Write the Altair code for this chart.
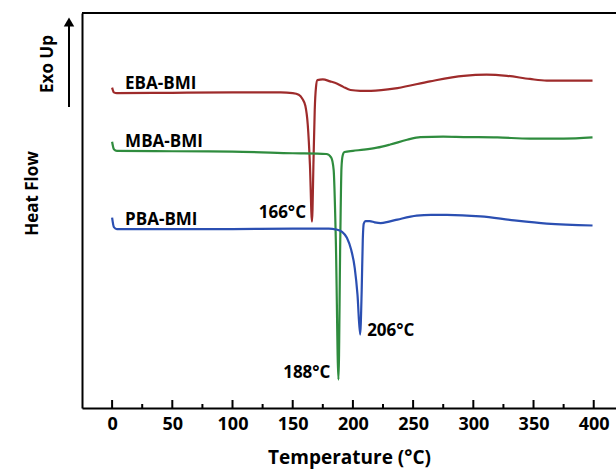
import altair as alt
import pandas as pd

# DSC scans of the three bismaleimide monomers (heat flow in arbitrary units, exo up)
eba_temp = [0, 1.5, 4, 50, 100, 140, 150, 155, 158, 160.5, 162.5, 164.3, 166, 167.3, 168.3,
            169.3, 170.5, 175, 181, 187, 192, 198, 206, 215, 237, 264, 292, 311, 328, 347,
            361, 381, 399]
eba_flow = [81.1, 79.9, 79.7, 79.8, 79.9, 79.9, 79.7, 79.3, 78.3, 76.5, 71.7, 61.6, 47.2, 62.9,
            75.5, 81.1, 83.0, 83.2, 82.7, 82.1, 81.3, 80.5, 80.3, 80.3, 81.0, 82.7, 84.1, 84.4,
            84.1, 83.3, 82.9, 82.9, 82.9]

mba_temp = [0, 1.5, 4, 50, 100, 150, 178, 182, 184, 185.8, 188, 189.5, 190.5, 191.5, 193, 200,
            209, 220, 231, 245, 256, 275, 292, 320, 347, 375, 399]
mba_flow = [67.4, 65.5, 65.1, 65.0, 64.9, 64.5, 64.3, 63.4, 60.3, 42.6, 7.2, 42.6, 60.8, 63.9,
            64.8, 65.1, 65.4, 65.9, 66.7, 67.9, 68.6, 68.7, 68.6, 68.5, 68.2, 68.2, 68.5]

pba_temp = [0, 1.5, 4, 50, 100, 150, 180, 186, 191, 195, 198.5, 201.5, 203.8, 206, 207.3, 208.2,
            209, 210.5, 214, 218, 223, 230, 237, 253, 265, 278, 306, 334, 361, 399]
pba_flow = [48.2, 45.8, 45.3, 45.3, 45.3, 45.4, 45.4, 45.2, 44.6, 43.1, 40.1, 35.5, 28.7, 18.6,
            29.9, 42.6, 46.7, 47.3, 47.3, 47.0, 46.8, 47.2, 47.7, 48.7, 48.9, 48.9, 48.5, 47.5,
            46.7, 46.2]

samples = ["EBA-BMI", "MBA-BMI", "PBA-BMI"]
colors = ["#9E2B2B", "#2F8C3E", "#2B4FB2"]
major_ticks = [0, 50, 100, 150, 200, 250, 300, 350, 400]
minor_ticks = [25, 75, 125, 175, 225, 275, 325, 375]

series = list(zip(samples, [eba_temp, mba_temp, pba_temp], [eba_flow, mba_flow, pba_flow]))

rows = []
for name, ts, hs in series:
    for t, h in zip(ts, hs):
        rows.append({"sample": name, "temp": t, "flow": h})
df = pd.DataFrame(rows)

# name labels sit just above each flat baseline at the start of the scan
name_df = pd.DataFrame([{"sample": n, "temp": ts[0], "flow": hs[2]} for n, ts, hs in series])

# melting endotherm minimum of each scan
peaks = []
for n, ts, hs in series:
    i = hs.index(min(hs))
    peaks.append({"sample": n, "temp": ts[i], "flow": hs[i], "label": f"{ts[i]:g}°C"})
peak_df = pd.DataFrame(peaks)

W, H = 534, 395
FONT = "Open Sans"

x_scale = alt.Scale(domain=[-25, 418.5], nice=False, zero=False)
y_scale = alt.Scale(domain=[0, 100], nice=False, zero=False)

x_axis = alt.Axis(
    title="Temperature (°C)", values=major_ticks, format="d", ticks=False, grid=False,
    domainColor="black", domainWidth=2, labelColor="black", labelFont=FONT,
    labelFontSize=18, labelFontWeight="bold", labelBaseline="middle", labelPadding=16,
    titleFont=FONT, titleFontSize=19, titleFontWeight="bold", titleColor="black",
    titleY=49, titleBaseline="middle")
y_axis = alt.Axis(
    title="Heat Flow", labels=False, ticks=False, grid=False, domainColor="black",
    domainWidth=2, titleFont=FONT, titleFontSize=17, titleFontWeight="bold",
    titleColor="black", titleAngle=270, titleX=-50, titleY=180,
    titleBaseline="middle", titleAlign="center")

curves = alt.Chart(df).mark_line(strokeWidth=2.2, interpolate="monotone").encode(
    x=alt.X("temp:Q", scale=x_scale, axis=x_axis),
    y=alt.Y("flow:Q", scale=y_scale, axis=y_axis),
    color=alt.Color("sample:N", scale=alt.Scale(domain=samples, range=colors), legend=None),
)

# inward tick marks on the temperature axis
major_df = pd.DataFrame({"temp": major_ticks})
minor_df = pd.DataFrame({"temp": minor_ticks})
major_marks = alt.Chart(major_df).mark_rule(color="black", strokeWidth=2).encode(
    x=alt.X("temp:Q"), y=alt.value(H), y2=alt.value(H - 8))
minor_marks = alt.Chart(minor_df).mark_rule(color="black", strokeWidth=2).encode(
    x=alt.X("temp:Q"), y=alt.value(H), y2=alt.value(H - 4))

one = pd.DataFrame({"k": [0]})
top_border = alt.Chart(one).mark_rule(color="black", strokeWidth=2).encode(
    x=alt.value(0), x2=alt.value(W), y=alt.value(0))

# "Exo Up" arrow beside the heat-flow axis
arrow_shaft = alt.Chart(one).mark_rule(color="black", strokeWidth=2).encode(
    x=alt.value(-13), y=alt.value(10), y2=alt.value(94))
arrow_head = alt.Chart(one).mark_point(shape="triangle-up", filled=True, size=110,
                                       color="black", opacity=1).encode(
    x=alt.value(-13), y=alt.value(9))
exo_text = alt.Chart(one).mark_text(text="Exo Up", angle=270, font=FONT, fontSize=17,
                                    fontWeight="bold", color="black", align="center",
                                    baseline="middle").encode(
    x=alt.value(-34), y=alt.value(51))

names = alt.Chart(name_df).mark_text(align="left", baseline="middle", dx=13, dy=-9, font=FONT,
                                     fontSize=17, fontWeight="bold", color="black").encode(
    x=alt.X("temp:Q"), y=alt.Y("flow:Q"), text="sample:N")

peak_layers = []
offsets = {"EBA-BMI": ("right", -6, -9), "MBA-BMI": ("right", -8, -7), "PBA-BMI": ("left", 7, -4)}
for n in samples:
    align, dx, dy = offsets[n]
    peak_layers.append(
        alt.Chart(peak_df[peak_df["sample"] == n]).mark_text(
            align=align, baseline="middle", dx=dx, dy=dy, font=FONT, fontSize=17,
            fontWeight="bold", color="black").encode(
            x=alt.X("temp:Q"), y=alt.Y("flow:Q"), text="label:N"))

chart = alt.layer(
    curves, major_marks, minor_marks, top_border, arrow_shaft, arrow_head, exo_text, names,
    *peak_layers
).properties(
    width=W, height=H,
    autosize=alt.AutoSizeParams(type="none"),
    padding={"left": 82, "top": 13, "right": 0, "bottom": 62},
    background="white",
).configure_view(stroke=None).configure(font=FONT)

chart.save("out.html", embed_options={"renderer": "svg", "actions": False})
